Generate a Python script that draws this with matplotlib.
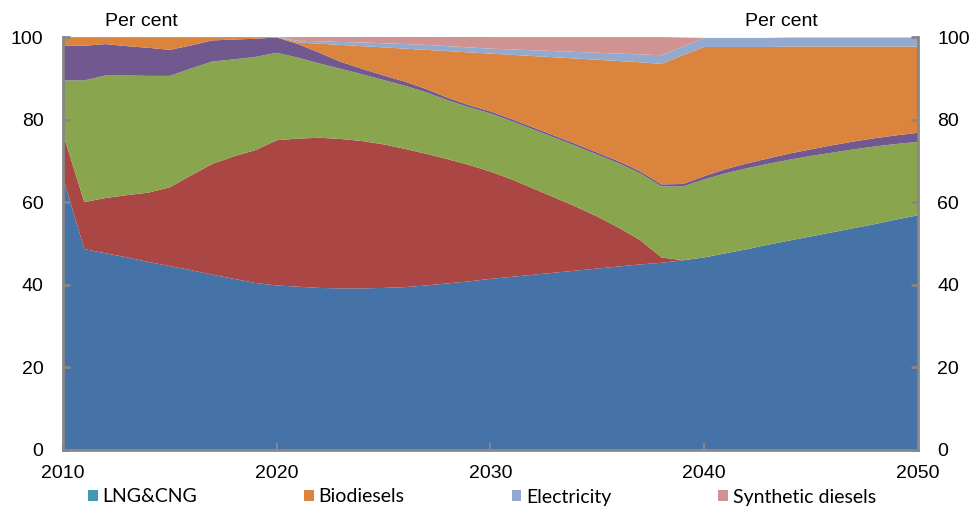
import matplotlib
matplotlib.use("Agg")
import matplotlib.pyplot as plt
from matplotlib.patches import Rectangle

years = list(range(2010, 2051))

# Series (per cent), stacked bottom to top
diesel = [66.1, 48.6, 47.6, 46.6, 45.5, 44.5, 43.5, 42.4, 41.4, 40.4,
          39.8, 39.5, 39.2, 39.1, 39.1, 39.2, 39.4, 39.8, 40.3, 40.8,
          41.4, 41.9, 42.4, 42.9, 43.4, 43.9, 44.4, 44.9, 45.3, 45.9,
          46.6, 47.6, 48.6, 49.7, 50.7, 51.7, 52.7, 53.7, 54.7, 55.8, 56.8]
hfo = [10.5, 11.4, 13.4, 15.1, 16.8, 19.1, 23.0, 26.9, 29.7, 32.2,
       35.2, 35.9, 36.4, 36.2, 35.7, 34.8, 33.5, 31.9, 30.1, 28.2,
       26.0, 23.6, 20.9, 18.2, 15.5, 12.6, 9.4, 5.9, 1.3, 0.0,
       0.0, 0.0, 0.0, 0.0, 0.0, 0.0, 0.0, 0.0, 0.0, 0.0, 0.0]
mgo = [12.9, 29.5, 29.7, 29.0, 28.3, 27.0, 25.9, 24.8, 23.5, 22.6,
       21.2, 19.6, 18.0, 17.0, 16.2, 15.6, 15.3, 14.9, 14.3, 14.0,
       14.1, 14.1, 14.3, 14.5, 14.7, 15.0, 15.6, 16.2, 17.2, 17.9,
       18.9, 19.4, 19.6, 19.6, 19.6, 19.5, 19.3, 19.1, 18.8, 18.3, 17.8]
other = [8.5, 8.4, 7.6, 7.1, 6.8, 6.3, 5.6, 5.1, 4.8, 4.4,
         3.7, 3.3, 2.6, 1.7, 1.3, 1.1, 1.0, 0.8, 0.6, 0.5,
         0.5, 0.5, 0.5, 0.5, 0.5, 0.5, 0.5, 0.5, 0.5, 0.6,
         0.8, 1.0, 1.2, 1.3, 1.5, 1.6, 1.8, 1.9, 2.0, 2.1, 2.2]
lng_cng = [0.0] * 41
biodiesels = [2.0, 2.1, 1.7, 2.2, 2.6, 3.1, 2.0, 0.8, 0.6, 0.4,
              0.1, 0.4, 2.2, 4.1, 5.5, 6.8, 8.0, 9.5, 11.3, 12.8,
              14.0, 15.6, 17.3, 19.0, 20.7, 22.5, 24.3, 26.4, 29.2, 31.2,
              31.3, 29.6, 28.2, 27.0, 25.9, 24.9, 23.9, 23.0, 22.2, 21.5, 20.9]
electricity = [0.0] * 11 + [0.4, 0.6, 0.7, 0.9, 1.0, 1.1, 1.2, 1.2, 1.2,
               1.2, 1.3, 1.4, 1.5, 1.6, 1.7, 1.8, 1.9, 2.1, 2.1,
               2.2, 2.2, 2.2, 2.2, 2.2, 2.2, 2.2, 2.2, 2.2, 2.2, 2.2]
synthetic = [0.0] * 11 + [0.9, 1.1, 1.3, 1.5, 1.8, 2.0, 2.2, 2.4, 2.6,
             2.8, 3.0, 3.2, 3.4, 3.6, 3.8, 4.0, 4.2, 4.4, 2.2,
             0.0, 0.0, 0.0, 0.0, 0.0, 0.0, 0.0, 0.0, 0.0, 0.0, 0.0]

legend_labels = ["LNG&CNG", "Biodiesels", "Electricity", "Synthetic diesels"]
x_ticks = [2010, 2020, 2030, 2040, 2050]
y_ticks = [0, 20, 40, 60, 80, 100]

colors = ["#4572A7", "#AA4643", "#89A54E", "#71588F", "#4198AF",
          "#DB843D", "#93A9CF", "#D19392"]

plt.rcParams['font.family'] = ['Liberation Sans', 'DejaVu Sans']

fig = plt.figure(figsize=(9.73, 5.08), dpi=100)
ax = fig.add_axes([0.0647, 0.1148, 0.8788, 0.8122])

ax.stackplot(years, diesel, hfo, mgo, other, lng_cng, biodiesels,
             electricity, synthetic, colors=colors, linewidth=0)

ax.set_xlim(2010, 2050)
ax.set_ylim(0, 100)
ax.set_xticks(x_ticks)
ax.set_yticks(y_ticks)
ax.set_xticklabels([str(t) for t in x_ticks], fontsize=14)
ax.set_yticklabels([str(t) for t in y_ticks], fontsize=14)

axis_col = "#878787"
for side in ["left", "right", "bottom"]:
    ax.spines[side].set_color(axis_col)
    ax.spines[side].set_linewidth(2)
ax.spines["top"].set_visible(False)

ax.tick_params(axis='y', direction='in', left=True, right=True,
               labelleft=True, labelright=True, length=5, width=2,
               color=axis_col, pad=14)
ax.tick_params(axis='x', direction='in', length=5, width=1.5,
               color=axis_col, pad=11)

fig.text(141 / 973, 1 - 22 / 508, "Per cent", ha='center', va='center', fontsize=14)
fig.text(781 / 973, 1 - 22 / 508, "Per cent", ha='center', va='center', fontsize=14)

leg_colors = [colors[4], colors[5], colors[6], colors[7]]
handles = [Rectangle((0, 0), 1, 1, facecolor=c, edgecolor='none') for c in leg_colors]
fig.legend(handles, legend_labels, loc='center', bbox_to_anchor=(482 / 973, 1 - 497 / 508),
           ncol=4, frameon=False, handlelength=0.5, handleheight=0.5,
           handletextpad=0.25, columnspacing=5.5, borderpad=0.1,
           prop={'family': ['Lato', 'DejaVu Sans'], 'size': 14})

fig.savefig("out.png", dpi=100)
